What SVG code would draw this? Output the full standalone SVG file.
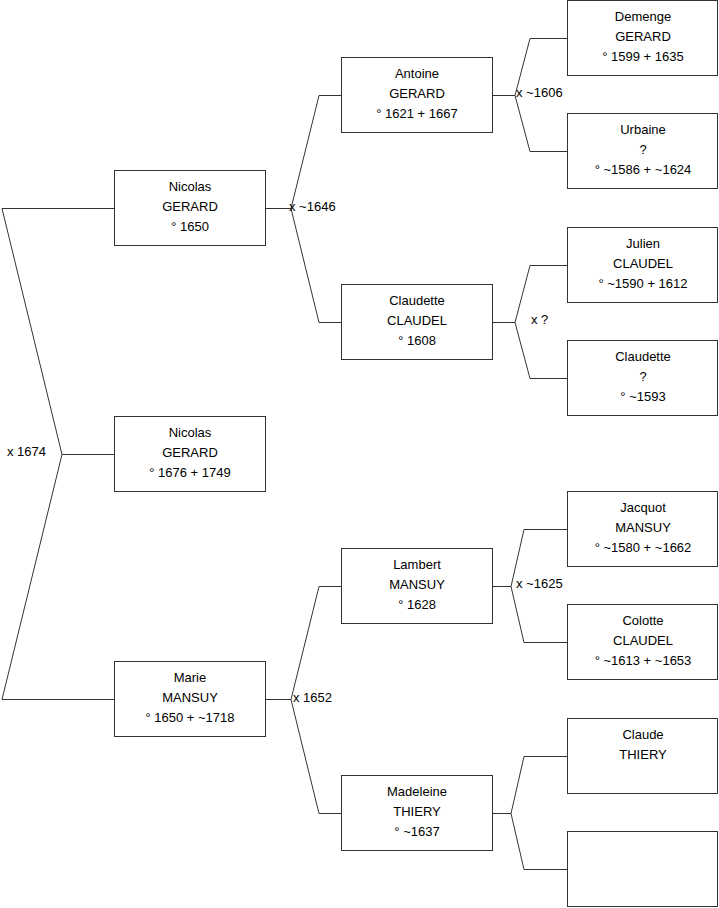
<svg xmlns="http://www.w3.org/2000/svg" width="719" height="908" viewBox="0 0 719 908">
<style>
.box{fill:#fff;stroke:#333;stroke-width:1}
.t{font-family:"Liberation Sans",Arial,sans-serif;font-size:13px;fill:#000;text-anchor:middle}
.l{font-family:"Liberation Sans",Arial,sans-serif;font-size:13px;fill:#000}
.c{fill:none;stroke:#333;stroke-width:1}
</style>
<rect width="719" height="908" fill="#fff"/>
<g id="connectors">
<polyline class="c" points="114,208.5 2,208.5 62,454.5 2,699.5 114,699.5"/>
<line class="c" x1="62" y1="454.5" x2="114" y2="454.5"/>
<polyline class="c" points="341,95.5 319,95.5 291,208.5 319,322.5 341,322.5"/>
<line class="c" x1="265" y1="208.5" x2="291" y2="208.5"/>
<polyline class="c" points="341,586.5 319,586.5 291,699.5 319,813.5 341,813.5"/>
<line class="c" x1="265" y1="699.5" x2="291" y2="699.5"/>
<polyline class="c" points="567,38.5 530,38.5 515,95.5 530,151.5 567,151.5"/>
<line class="c" x1="492" y1="95.5" x2="515" y2="95.5"/>
<polyline class="c" points="567,265.5 530,265.5 515,322.5 530,378.5 567,378.5"/>
<line class="c" x1="492" y1="322.5" x2="515" y2="322.5"/>
<polyline class="c" points="567,529.5 524,529.5 511,586.5 524,642.5 567,642.5"/>
<line class="c" x1="492" y1="586.5" x2="511" y2="586.5"/>
<polyline class="c" points="567,756.5 524,756.5 511,813.5 524,869.5 567,869.5"/>
<line class="c" x1="492" y1="813.5" x2="511" y2="813.5"/>
<text class="l" x="7" y="456">x 1674</text>
<text class="l" x="289" y="211">x ~1646</text>
<text class="l" x="293" y="701.5">x 1652</text>
<text class="l" x="516" y="96.5">x ~1606</text>
<text class="l" x="531" y="324">x ?</text>
<text class="l" x="516" y="587.5">x ~1625</text>
</g>
<g id="n-nicolas-1676">
<rect class="box" x="114.5" y="416.5" width="151" height="75"/>
<text class="t" x="190" y="436.5">Nicolas</text>
<text class="t" x="190" y="456.5">GERARD</text>
<text class="t" x="190" y="476.5">° 1676 + 1749</text>
</g>
<g id="n-nicolas-1650">
<rect class="box" x="114.5" y="170.5" width="151" height="75"/>
<text class="t" x="190" y="190.5">Nicolas</text>
<text class="t" x="190" y="210.5">GERARD</text>
<text class="t" x="190" y="230.5">° 1650</text>
</g>
<g id="n-marie">
<rect class="box" x="114.5" y="661.5" width="151" height="75"/>
<text class="t" x="190" y="681.5">Marie</text>
<text class="t" x="190" y="701.5">MANSUY</text>
<text class="t" x="190" y="721.5">° 1650 + ~1718</text>
</g>
<g id="n-antoine">
<rect class="box" x="341.5" y="57.5" width="151" height="75"/>
<text class="t" x="417" y="77.5">Antoine</text>
<text class="t" x="417" y="97.5">GERARD</text>
<text class="t" x="417" y="117.5">° 1621 + 1667</text>
</g>
<g id="n-claudette-claudel">
<rect class="box" x="341.5" y="284.5" width="151" height="75"/>
<text class="t" x="417" y="304.5">Claudette</text>
<text class="t" x="417" y="324.5">CLAUDEL</text>
<text class="t" x="417" y="344.5">° 1608</text>
</g>
<g id="n-lambert">
<rect class="box" x="341.5" y="548.5" width="151" height="75"/>
<text class="t" x="417" y="568.5">Lambert</text>
<text class="t" x="417" y="588.5">MANSUY</text>
<text class="t" x="417" y="608.5">° 1628</text>
</g>
<g id="n-madeleine">
<rect class="box" x="341.5" y="775.5" width="151" height="75"/>
<text class="t" x="417" y="795.5">Madeleine</text>
<text class="t" x="417" y="815.5">THIERY</text>
<text class="t" x="417" y="835.5">° ~1637</text>
</g>
<g id="n-demenge">
<rect class="box" x="567.5" y="0.5" width="150" height="75"/>
<text class="t" x="643" y="20.5">Demenge</text>
<text class="t" x="643" y="40.5">GERARD</text>
<text class="t" x="643" y="60.5">° 1599 + 1635</text>
</g>
<g id="n-urbaine">
<rect class="box" x="567.5" y="113.5" width="150" height="75"/>
<text class="t" x="643" y="133.5">Urbaine</text>
<text class="t" x="643" y="153.5">?</text>
<text class="t" x="643" y="173.5">° ~1586 + ~1624</text>
</g>
<g id="n-julien">
<rect class="box" x="567.5" y="227.5" width="150" height="75"/>
<text class="t" x="643" y="247.5">Julien</text>
<text class="t" x="643" y="267.5">CLAUDEL</text>
<text class="t" x="643" y="287.5">° ~1590 + 1612</text>
</g>
<g id="n-claudette">
<rect class="box" x="567.5" y="340.5" width="150" height="75"/>
<text class="t" x="643" y="360.5">Claudette</text>
<text class="t" x="643" y="380.5">?</text>
<text class="t" x="643" y="400.5">° ~1593</text>
</g>
<g id="n-jacquot">
<rect class="box" x="567.5" y="491.5" width="150" height="75"/>
<text class="t" x="643" y="511.5">Jacquot</text>
<text class="t" x="643" y="531.5">MANSUY</text>
<text class="t" x="643" y="551.5">° ~1580 + ~1662</text>
</g>
<g id="n-colotte">
<rect class="box" x="567.5" y="604.5" width="150" height="75"/>
<text class="t" x="643" y="624.5">Colotte</text>
<text class="t" x="643" y="644.5">CLAUDEL</text>
<text class="t" x="643" y="664.5">° ~1613 + ~1653</text>
</g>
<g id="n-claude">
<rect class="box" x="567.5" y="718.5" width="150" height="75"/>
<text class="t" x="643" y="738.5">Claude</text>
<text class="t" x="643" y="758.5">THIERY</text>
</g>
<g id="n-empty">
<rect class="box" x="567.5" y="831.5" width="150" height="75"/>
</g>
</svg>
